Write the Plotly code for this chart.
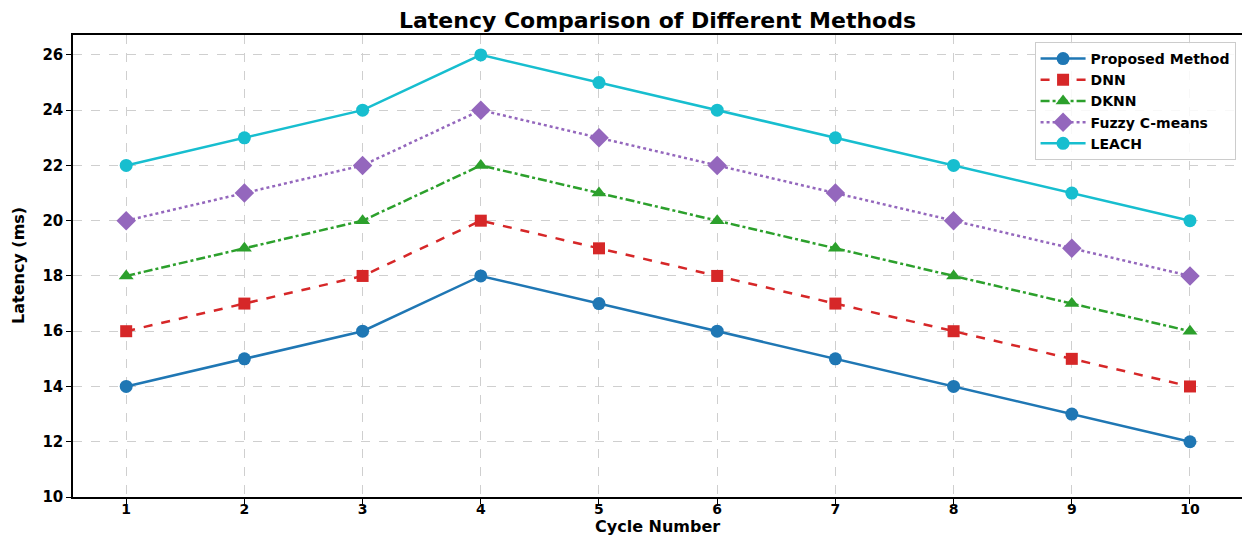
import plotly.graph_objects as go

cycles = [1, 2, 3, 4, 5, 6, 7, 8, 9, 10]
proposed = [14, 15, 16, 18, 17, 16, 15, 14, 13, 12]
dnn = [16, 17, 18, 20, 19, 18, 17, 16, 15, 14]
dknn = [18, 19, 20, 22, 21, 20, 19, 18, 17, 16]
fuzzy = [20, 21, 22, 24, 23, 22, 21, 20, 19, 18]
leach = [22, 23, 24, 26, 25, 24, 23, 22, 21, 20]
y_ticks = [10, 12, 14, 16, 18, 20, 22, 24, 26]

series = [
    ("Proposed Method", proposed, "#1f77b4", "solid", "circle", 13),
    ("DNN", dnn, "#d62728", "dash", "square", 12),
    ("DKNN", dknn, "#2ca02c", "dashdot", "triangle-up", 13),
    ("Fuzzy C-means", fuzzy, "#9467bd", "dot", "diamond", 15),
    ("LEACH", leach, "#17becf", "solid", "circle", 13),
]

font_family = "DejaVu Sans"
fig = go.Figure()
for name, vals, color, dash, sym, size in series:
    fig.add_trace(go.Scatter(
        x=cycles, y=vals, name=f"<b>{name}</b>", mode="lines+markers",
        line=dict(color=color, width=2.5, dash=dash),
        marker=dict(symbol=sym, size=size, color=color),
    ))

fig.update_layout(
    width=1242, height=536,
    margin=dict(l=73, r=0, t=35, b=39, autoexpand=False),
    paper_bgcolor="white", plot_bgcolor="white",
    font=dict(family=font_family, color="black"),
    title=dict(text="<b>Latency Comparison of Different Methods</b>",
               xref="paper", x=0.5, xanchor="center", y=0.962, yanchor="middle",
               font=dict(size=22, family=font_family)),
    legend=dict(x=0.9945, y=0.985, xanchor="right", yanchor="top",
                bgcolor="rgba(255,255,255,0.85)", bordercolor="#cccccc", borderwidth=1,
                font=dict(size=14, family=font_family), tracegroupgap=0,
                itemwidth=45),
    showlegend=True,
    annotations=[
        dict(text="<b>Cycle Number</b>", xref="paper", yref="paper", x=0.5, y=0,
             xanchor="center", yanchor="middle", yshift=-29, showarrow=False,
             font=dict(size=16, family=font_family)),
        dict(text="<b>Latency (ms)</b>", xref="paper", yref="paper", x=0, y=0.5,
             xanchor="center", yanchor="middle", xshift=-55, textangle=-90,
             showarrow=False, font=dict(size=16, family=font_family)),
    ],
)
fig.update_xaxes(
    range=[0.55, 10.44], tickvals=cycles,
    ticktext=[f"<b>{c}</b>" for c in cycles],
    tickfont=dict(size=14), ticks="outside", ticklen=5, tickcolor="black",
    ticklabelstandoff=-7,
    showline=True, linecolor="black", linewidth=1.5, mirror=True,
    showgrid=True, gridcolor="#cfcfcf", griddash="dash", gridwidth=1,
    zeroline=False, automargin=False,
)
fig.update_yaxes(
    range=[10, 26.72], tickvals=y_ticks, ticktext=[f"<b>{v}</b>" for v in y_ticks],
    tickfont=dict(size=15), ticks="outside", ticklen=5, tickcolor="black",
    showline=True, linecolor="black", linewidth=1.5,
    showgrid=True, gridcolor="#cfcfcf", griddash="dash", gridwidth=1,
    zeroline=False, automargin=False,
)

fig.write_html("out.html", config={"displayModeBar": False},
               post_script="document.body.style.margin='0';document.body.style.overflow='hidden';")
